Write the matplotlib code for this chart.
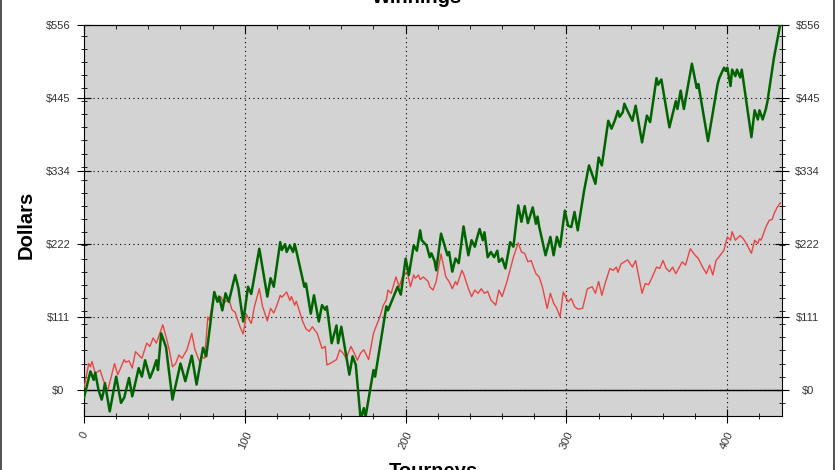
import matplotlib
matplotlib.use("Agg")
import matplotlib.pyplot as plt
from matplotlib.lines import Line2D
import numpy as np

plt.rcParams["font.family"] = ["Liberation Sans", "DejaVu Sans"]

green_t = [0, 4, 6, 7, 9, 11, 12, 13, 16, 20, 23, 25, 28, 30, 34, 36, 38, 41, 43, 45,
           46, 48, 51, 55, 60, 63, 67, 70, 74, 76, 81, 83, 84, 86, 88, 90, 94, 96, 99, 102,
           104, 109, 114, 116, 118, 122, 123, 125, 126, 128, 130, 131, 132, 137, 138, 141, 143, 146, 148, 150,
           151, 154, 157, 158, 160, 165, 167, 169, 172, 174, 175, 180, 181, 188, 189, 191, 195, 197, 200, 202,
           205, 207, 209, 210, 213, 215, 216, 218, 219, 222, 226, 227, 229, 231, 233, 236, 239, 241, 243, 244,
           246, 248, 249, 251, 253, 255, 257, 258, 260, 262, 265, 267, 270, 272, 274, 276, 279, 281, 282, 283,
           287, 290, 292, 294, 296, 299, 301, 303, 305, 307, 311, 314, 316, 318, 320, 322, 326, 328, 330, 332,
           333, 335, 336, 338, 341, 343, 347, 350, 352, 356, 357, 359, 364, 368, 369, 371, 373, 378, 381, 382,
           388, 394, 395, 398, 399, 400, 402, 403, 405, 406, 408, 409, 415, 417, 419, 420, 422, 424, 425, 429,
           433]
green_v = [-12, 28, 15, 26, 0, -15, -5, 10, -33, 20, -20, -12, 18, -10, 33, 20, 45, 18, 30, 45,
           30, 86, 65, -15, 40, 13, 52, 8, 64, 51, 149, 134, 142, 121, 147, 134, 175, 155, 104, 157,
           146, 215, 142, 170, 157, 225, 213, 222, 210, 220, 210, 222, 212, 157, 162, 116, 144, 104, 129, 122,
           127, 71, 98, 71, 96, 23, 51, 38, -45, -28, -42, 30, 20, 127, 121, 133, 157, 145, 200, 175,
           220, 212, 243, 228, 220, 202, 208, 196, 182, 238, 205, 210, 180, 200, 193, 249, 205, 228, 218, 228,
           245, 228, 240, 202, 210, 202, 212, 195, 200, 185, 225, 218, 281, 256, 280, 254, 278, 253, 264, 249,
           205, 233, 205, 233, 218, 273, 250, 248, 271, 243, 304, 342, 328, 314, 354, 342, 410, 398, 410, 425,
           416, 423, 436, 425, 410, 433, 377, 418, 408, 475, 465, 473, 400, 440, 428, 456, 428, 497, 460, 466,
           379, 466, 475, 491, 486, 491, 463, 488, 478, 488, 476, 488, 385, 426, 412, 426, 412, 428, 440, 506,
           558]

red_t = [0, 3, 4, 5, 7, 10, 12, 14, 15, 19, 21, 25, 26, 28, 30, 32, 34, 36, 39, 41,
         43, 45, 49, 51, 53, 55, 57, 59, 61, 64, 67, 69, 72, 73, 75, 77, 78, 81, 83, 85,
         87, 90, 92, 94, 97, 99, 101, 102, 104, 106, 109, 111, 114, 116, 118, 120, 122, 123, 126, 128,
         129, 131, 132, 136, 138, 140, 142, 145, 148, 150, 151, 153, 157, 159, 161, 163, 166, 168, 170, 172,
         174, 177, 180, 182, 184, 186, 188, 189, 191, 194, 196, 198, 201, 203, 205, 206, 208, 209, 211, 214,
         215, 217, 219, 222, 225, 227, 229, 231, 232, 235, 236, 239, 241, 243, 245, 247, 249, 251, 253, 256,
         258, 260, 263, 267, 270, 272, 274, 276, 278, 281, 283, 285, 288, 290, 292, 294, 296, 298, 301, 303,
         305, 307, 310, 313, 316, 318, 320, 322, 324, 327, 329, 331, 332, 334, 336, 338, 341, 343, 347, 349,
         351, 353, 356, 358, 360, 362, 364, 366, 368, 372, 374, 377, 380, 382, 384, 387, 389, 391, 393, 395,
         398, 400, 402, 403, 405, 408, 410, 412, 415, 417, 419, 420, 421, 424, 426, 428, 429, 431, 433]
red_v = [3, 40, 35, 43, 25, 30, 15, 3, 1, 40, 23, 46, 42, 44, 33, 58, 53, 48, 71, 66,
         79, 71, 99, 81, 61, 35, 40, 53, 48, 61, 86, 61, 42, 50, 48, 111, 106, 147, 137, 142,
         132, 139, 122, 118, 96, 85, 115, 110, 101, 127, 154, 127, 105, 124, 117, 129, 144, 141, 149, 136,
         142, 129, 135, 104, 93, 89, 96, 86, 63, 66, 38, 40, 46, 61, 56, 48, 66, 56, 45, 56,
         61, 46, 86, 99, 111, 128, 137, 152, 147, 172, 157, 172, 180, 157, 175, 170, 175, 168, 172, 165,
         157, 152, 165, 207, 172, 165, 154, 165, 160, 182, 177, 154, 142, 152, 147, 154, 147, 150, 137, 129,
         152, 142, 165, 202, 224, 210, 208, 195, 197, 177, 172, 157, 124, 147, 132, 124, 111, 149, 134, 139,
         127, 123, 124, 154, 157, 147, 165, 144, 162, 185, 182, 187, 179, 192, 195, 198, 187, 197, 147, 162,
         160, 170, 187, 185, 197, 185, 180, 187, 177, 195, 190, 215, 205, 200, 190, 177, 190, 175, 197, 203,
         213, 233, 228, 241, 228, 235, 230, 222, 208, 228, 223, 230, 228, 248, 258, 260, 268, 278, 285]

y_max = 556
y_ticks = np.linspace(0, y_max, 6)
y_labels = ["$0", "$111", "$222", "$334", "$445", "$556"]
x_ticks = [0, 100, 200, 300, 400]

fig = plt.figure(figsize=(8.35, 4.7), dpi=100)
ax = fig.add_axes([0.1006, 0.1149, 0.8359, 0.8319])
ax.set_facecolor("#d3d3d3")

ax.plot(red_t, red_v, color="#e84545", lw=1.0, zorder=3)
ax.plot(green_t, green_v, color="#006400", lw=1.8, zorder=4)
ax.axhline(0, color="black", lw=1.0, zorder=2)

ax.set_xlim(0, 434)
ax.set_ylim(-40, y_max)

ax.set_xticks(x_ticks)
ax.set_xticks(np.arange(0, 434, 20), minor=True)
ax.set_yticks(y_ticks)
ax.set_yticklabels(y_labels, ha="center")
ax.set_yticks(np.arange(-20, y_max, 20), minor=True)

ax.grid(True, which="major", color="black", linestyle=(0, (1, 3)), lw=0.8)
ax.tick_params(axis="y", which="both", direction="inout", left=True, right=True,
               labelleft=True, labelright=True, labelsize=8, labelcolor="#333333")
ax.tick_params(axis="y", which="major", length=10, pad=13.5)
ax.tick_params(axis="y", which="minor", length=5)
ax.tick_params(axis="x", which="both", direction="inout", labelsize=8, labelcolor="#333333")
ax.tick_params(axis="x", which="major", length=10, pad=5)
ax.tick_params(axis="x", which="minor", length=4)
for lab in ax.get_xticklabels():
    lab.set_rotation(65)
    lab.set_ha("center")

top = ax.secondary_xaxis("top")
top.set_xticks(x_ticks)
top.set_xticks(np.arange(0, 434, 20), minor=True)
top.tick_params(which="both", direction="in", labeltop=False)
top.tick_params(which="major", length=6)
top.tick_params(which="minor", length=3)

fig.text(0.5, 1 - 3 / 470, "Winnings", ha="center", va="baseline",
         fontsize=14.5, fontweight="bold")
fig.text(433 / 835, -7 / 470, "Tourneys", ha="center", va="baseline",
         fontsize=14.5, fontweight="bold")
fig.text(26 / 835, 1 - 225 / 470, "Dollars", ha="center", va="center",
         rotation=90, fontsize=14.5, fontweight="bold")

# thin frame at the sides of the image
fig.add_artist(Line2D([0.8 / 835, 0.8 / 835], [0, 1], color="#333333", lw=1.2))
fig.add_artist(Line2D([833.5 / 835, 833.5 / 835], [0, 1], color="#333333", lw=1.2))

fig.savefig("out.png", dpi=100)
